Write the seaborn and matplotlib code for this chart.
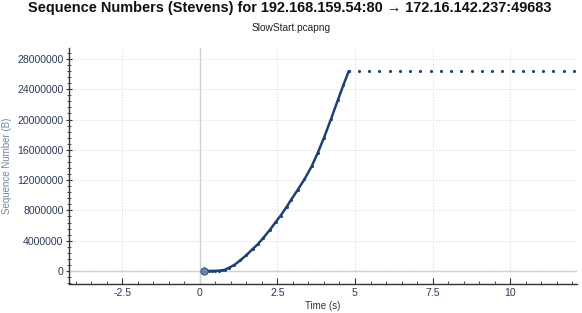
import matplotlib
matplotlib.use("Agg")
import matplotlib.pyplot as plt
from matplotlib.ticker import AutoMinorLocator
import seaborn as sns
import pandas as pd

# ---- data ----
time_s = [0.12, 0.2, 0.3, 0.4, 0.5, 0.6, 0.7, 0.8, 0.95, 1.11, 1.3, 1.5, 1.7, 1.86,
          2.05, 2.25, 2.45, 2.6, 2.8, 2.94, 3.15, 3.37, 3.6, 3.8, 4.0, 4.23, 4.45, 4.62, 4.8]
seq_bytes = [0, 0, 5e3, 1e4, 2e4, 4e4, 8e4, 1.5e5, 4.5e5, 8e5, 1.4e6, 2.1e6, 2.9e6, 3.5e6,
             4.4e6, 5.4e6, 6.5e6, 7.3e6, 8.5e6, 9.4e6, 10.7e6, 12.1e6, 13.8e6, 15.6e6, 17.6e6,
             20.1e6, 22.6e6, 24.5e6, 26.4e6]
plateau_t = [4.8, 5.13, 5.46, 5.79, 6.12, 6.45, 6.78, 7.11, 7.44, 7.77, 8.1, 8.43, 8.76,
             9.09, 9.42, 9.75, 10.08, 10.41, 10.74, 11.07, 11.4, 11.73, 12.06]
plateau_seq = [26.4e6] * len(plateau_t)
start_t = [0.12]
start_seq = [0]
x_ticks = [-2.5, 0, 2.5, 5, 7.5, 10]
y_ticks = [0, 4000000, 8000000, 12000000, 16000000, 20000000, 24000000, 28000000]

title = "Sequence Numbers (Stevens) for 192.168.159.54:80 \u2192 172.16.142.237:49683"
subtitle = "SlowStart.pcapng"

sns.set_theme(style="white")
plt.rcParams['font.family'] = ['Liberation Sans', 'DejaVu Sans']

navy = "#1f4170"
tickc = "#2b3a55"

fig = plt.figure(figsize=(5.82, 3.13), dpi=100)
ax = fig.add_axes([0.1186, 0.0927, 0.8724, 0.7539])

df = pd.DataFrame({"t": time_s, "s": seq_bytes})
sns.lineplot(data=df, x="t", y="s", ax=ax, color=navy, linewidth=1.8,
             marker="o", markersize=2.2, markeredgewidth=0, sort=False, zorder=4)
dfp = pd.DataFrame({"t": plateau_t, "s": plateau_seq})
sns.scatterplot(data=dfp, x="t", y="s", ax=ax, color=navy, s=5, linewidth=0, zorder=4)
dfs = pd.DataFrame({"t": start_t, "s": start_seq})
sns.scatterplot(data=dfs, x="t", y="s", ax=ax, color="#6f86a6", s=28,
                edgecolor=navy, linewidth=0.6, zorder=5)

ax.set_xlim(-4.22, 12.15)
ax.set_ylim(-1.72e6, 29.45e6)
ax.set_xticks(x_ticks)
ax.set_xticklabels([f"{v:g}" for v in x_ticks])
ax.set_yticks(y_ticks)
ax.set_yticklabels([str(v) for v in y_ticks])
ax.xaxis.set_minor_locator(AutoMinorLocator(5))
ax.yaxis.set_minor_locator(AutoMinorLocator(5))

ax.grid(True, which="major", color="#dcdcdc", linestyle=(0, (1, 1.5)), linewidth=0.8)
ax.axhline(0, color="#d0d0d0", linewidth=1.0, zorder=1)
ax.axvline(0, color="#d0d0d0", linewidth=1.0, zorder=1)

for sp in ["top", "right"]:
    ax.spines[sp].set_visible(False)
for sp in ["left", "bottom"]:
    ax.spines[sp].set_color("#333333")
    ax.spines[sp].set_linewidth(1.0)

ax.tick_params(axis="x", which="major", direction="in", length=4, width=0.8,
               colors="#333333", labelcolor=tickc, labelsize=7.6, bottom=True, pad=3)
ax.tick_params(axis="x", which="minor", direction="in", length=2.5, width=0.6,
               colors="#333333", bottom=True)
ax.tick_params(axis="y", which="major", direction="inout", length=4, width=0.8,
               colors="#333333", labelcolor=tickc, labelsize=7.6, left=True, pad=2)
ax.tick_params(axis="y", which="minor", direction="inout", length=2.5, width=0.6,
               colors="#333333", left=True)

ax.set_xlabel("Time (s)", fontsize=7, color="#333333", labelpad=2)
ax.set_ylabel("Sequence Number (B)", fontsize=7, color="#6f86a6", labelpad=4)

t = fig.text(0.4983, 0.975, title, ha="center", va="center", fontsize=12,
             fontweight="bold", color="#111111")
# shrink title to the reference's width (~522 px)
fig.canvas.draw()
w = t.get_window_extent().width
t.set_fontsize(12 * 522.0 / w)
fig.text(0.5, 0.91, subtitle, ha="center", va="center", fontsize=7.3, color="#222222")

fig.savefig("out.png", dpi=100)
